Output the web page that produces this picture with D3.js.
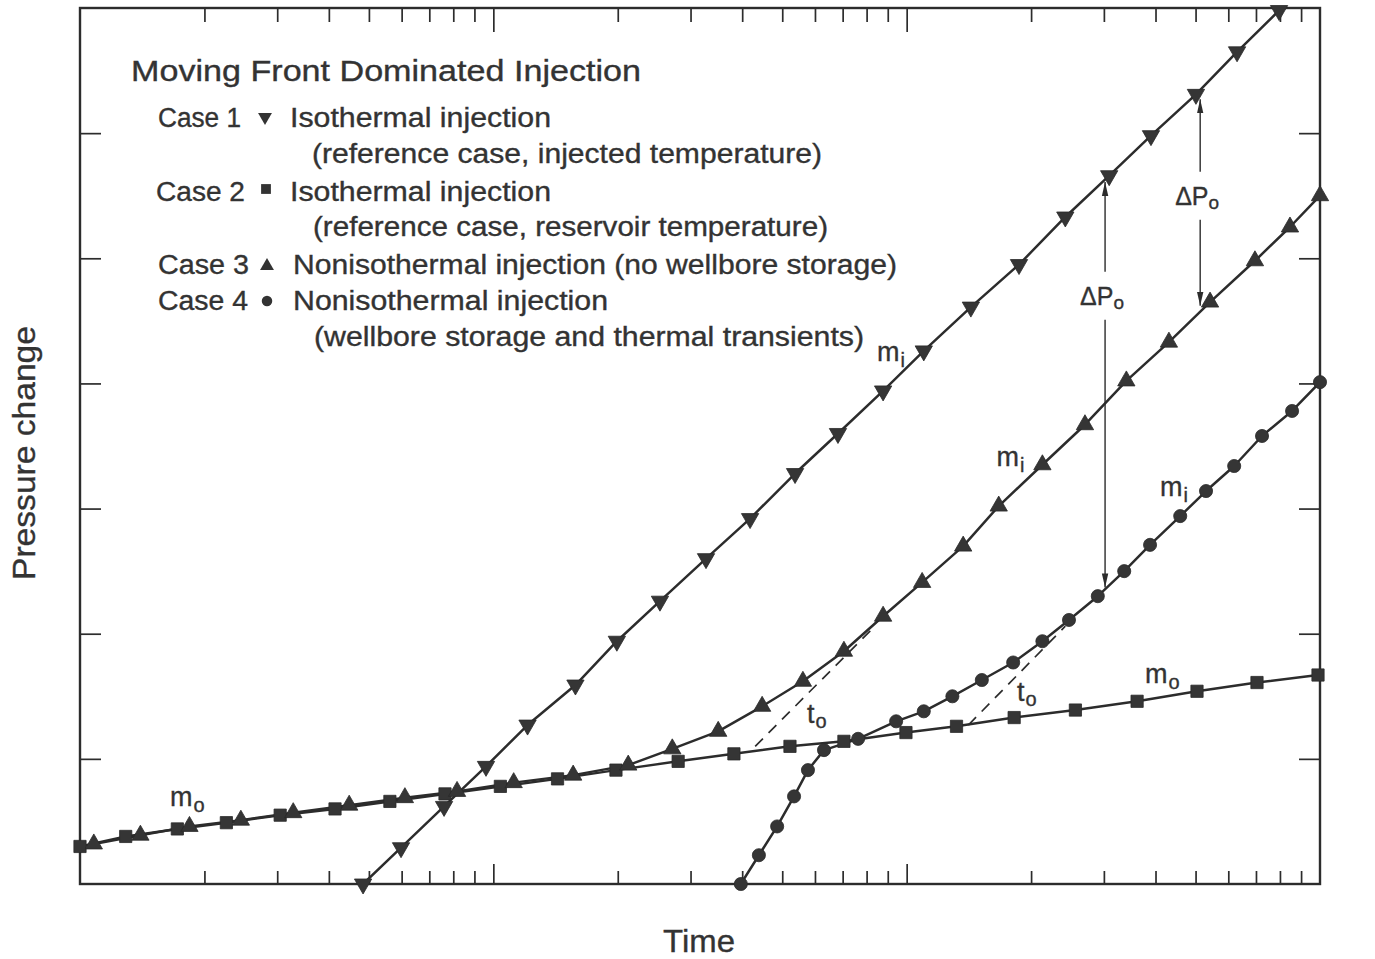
<!DOCTYPE html>
<html>
<head>
<meta charset="utf-8">
<script src="https://cdn.jsdelivr.net/npm/d3@7"></script>
<style>
  html, body { margin: 0; padding: 0; background: #ffffff; }
  svg { display: block; }
  text { font-family: "Liberation Sans", Arial, sans-serif; fill: #333333; stroke: #333333; stroke-width: 0.35; }
</style>
</head>
<body>
<svg id="chart" width="1375" height="959"></svg>
<script>
// ---- Data (time on a log axis, pressure change in arbitrary linear units) ----

// Case 1: isothermal injection, reference case at injected temperature
const case1Time = [4.84, 5.98, 7.60, 9.60, 12.1, 15.8, 19.9, 25.3, 32.7, 41.8, 53.7,
                   68.2, 87.7, 110, 143, 187, 242, 309, 390, 501, 630, 796];
const case1Pressure = [0.00, 0.29, 0.62, 0.94, 1.27, 1.59, 1.94, 2.26, 2.60, 2.92, 3.28,
                       3.60, 3.94, 4.26, 4.61, 4.95, 5.33, 5.66, 5.98, 6.31, 6.65, 6.98];

// Case 2: isothermal injection, reference case at reservoir temperature
const case2Time = [1.00, 1.29, 1.72, 2.26, 3.05, 4.14, 5.62, 7.64, 10.4, 14.3, 19.8, 28.0,
                   38.2, 52.2, 70.5, 99.6, 132, 182, 256, 361, 504, 704, 989];
const case2Pressure = [0.30, 0.38, 0.44, 0.49, 0.55, 0.60, 0.66, 0.72, 0.78, 0.84, 0.91, 0.98,
                       1.04, 1.10, 1.14, 1.21, 1.26, 1.33, 1.39, 1.46, 1.54, 1.61, 1.67];

// Case 3: nonisothermal injection, no wellbore storage
const case3Time = [1.08, 1.40, 1.84, 2.45, 3.28, 4.48, 6.11, 8.17, 11.2, 15.6, 21.2, 27.1, 35.0,
                   44.7, 56.1, 70.5, 87.7, 109, 137, 167, 213, 270, 340, 431, 542, 696, 846, 1000];
const case3Pressure = [0.32, 0.39, 0.46, 0.51, 0.57, 0.63, 0.69, 0.74, 0.81, 0.87, 0.95, 1.08, 1.22,
                       1.42, 1.62, 1.86, 2.14, 2.41, 2.70, 3.02, 3.35, 3.67, 4.02, 4.33, 4.65, 4.98, 5.25, 5.50];

// Case 4: nonisothermal injection, wellbore storage and thermal transients
const case4Time = [39.7, 43.9, 48.6, 53.4, 57.7, 63.1, 76.3, 94.3, 110, 129, 152, 181,
                   213, 247, 290, 336, 388, 459, 530, 620, 724, 856, 1000];
const case4Pressure = [0.00, 0.23, 0.46, 0.70, 0.91, 1.07, 1.16, 1.30, 1.38, 1.50, 1.63, 1.77,
                       1.94, 2.11, 2.30, 2.50, 2.71, 2.94, 3.14, 3.34, 3.58, 3.78, 4.01];

// Back-extrapolations of the m_i lines down to the m_o line (onset time t_o)
const onsetLineTime = [[43.0, 83.8], [141, 242]];
const onsetLinePressure = [[1.10, 2.06], [1.27, 2.06]];

// Pressure offsets between the Case 1 line and the nonisothermal lines
const offsetTime = [302, 513];
const offsetTop = [5.61, 6.27];
const offsetBottom = [2.37, 4.62];
const offsetLabelPressure = [4.70, 5.50];

// Slope and onset labels: [time, pressure] of the text baseline start
const slopeLabelMain = ["m", "m", "m", "m", "m"];
const slopeLabelSub = ["i", "i", "i", "o", "o"];
const slopeLabelTime = [84.8, 165, 410, 1.65, 377];
const slopeLabelPressure = [4.18, 3.34, 3.10, 0.62, 1.61];
const onsetLabelTime = [57.4, 185];
const onsetLabelPressure = [1.29, 1.46];

// Axis ticks (no labels are printed on either axis)
const timeTicks = [2, 3, 4, 5, 6, 7, 8, 9, 10, 20, 30, 40, 50, 60, 70, 80, 90, 100,
                   200, 300, 400, 500, 600, 700, 800, 900];
const decadeTicks = [10, 100];
const pressureTicks = [1, 2, 3, 4, 5, 6];

// ---- Layout ----
const frame = { left: 80, right: 1320, top: 8, bottom: 884 };
const ink = "#2c2c2c";

const x = d3.scaleLog().domain([1, 1000]).range([frame.left, frame.right]);
const y = d3.scaleLinear().domain([0, 7]).range([frame.bottom, frame.top]);

const svg = d3.select("#chart");
const defs = svg.append("defs");

defs.append("clipPath").attr("id", "plot-clip")
  .append("rect")
  .attr("x", frame.left).attr("y", frame.top)
  .attr("width", frame.right - frame.left)
  .attr("height", frame.bottom - frame.top);

defs.append("marker")
  .attr("id", "arrowhead")
  .attr("markerUnits", "userSpaceOnUse")
  .attr("viewBox", "0 0 14 8")
  .attr("refX", 14).attr("refY", 4)
  .attr("markerWidth", 14).attr("markerHeight", 8)
  .attr("orient", "auto")
  .append("path")
  .attr("d", "M0,0.8 L14,4 L0,7.2 Z")
  .attr("fill", ink);

// ---- Axes ----
function styleTicks(g) {
  g.select(".domain").remove();
  g.selectAll(".tick line").attr("stroke", ink).attr("stroke-width", 1.7);
  g.selectAll(".tick text").remove();
}

const gBottom = svg.append("g")
  .attr("transform", `translate(0,${frame.bottom})`)
  .call(d3.axisBottom(x).tickValues(timeTicks).tickFormat("").tickSizeOuter(0).tickSizeInner(-13));
styleTicks(gBottom);
gBottom.selectAll(".tick line").attr("y2", d => decadeTicks.includes(d) ? -20 : -13);

const gTop = svg.append("g")
  .attr("transform", `translate(0,${frame.top})`)
  .call(d3.axisTop(x).tickValues(timeTicks).tickFormat("").tickSizeOuter(0).tickSizeInner(-13));
styleTicks(gTop);
gTop.selectAll(".tick line").attr("y2", d => decadeTicks.includes(d) ? 24 : 14);

const gLeft = svg.append("g")
  .attr("transform", `translate(${frame.left},0)`)
  .call(d3.axisLeft(y).tickValues(pressureTicks).tickFormat("").tickSizeOuter(0).tickSizeInner(-21));
styleTicks(gLeft);

const gRight = svg.append("g")
  .attr("transform", `translate(${frame.right},0)`)
  .call(d3.axisRight(y).tickValues(pressureTicks).tickFormat("").tickSizeOuter(0).tickSizeInner(-21));
styleTicks(gRight);

svg.append("rect")
  .attr("x", frame.left).attr("y", frame.top)
  .attr("width", frame.right - frame.left)
  .attr("height", frame.bottom - frame.top)
  .attr("fill", "none").attr("stroke", ink).attr("stroke-width", 2.4);

// ---- Series ----
const series = [
  { time: case1Time, pressure: case1Pressure, shape: "down" },
  { time: case2Time, pressure: case2Pressure, shape: "square" },
  { time: case3Time, pressure: case3Pressure, shape: "up" },
  { time: case4Time, pressure: case4Pressure, shape: "circle" }
];

const line = d3.line().x(d => x(d[0])).y(d => y(d[1]));
const plot = svg.append("g").attr("clip-path", "url(#plot-clip)");

function symbolPath(shape, scale) {
  const s = scale || 1;
  if (shape === "square") return d3.symbol().type(d3.symbolSquare).size(150 * s * s)();
  if (shape === "circle") return d3.symbol().type(d3.symbolCircle).size(135 * s * s)();
  return d3.symbol().type(d3.symbolTriangle).size(130 * s * s)();
}

// onset-time extrapolations (dashed)
onsetLineTime.forEach((ts, i) => {
  const pts = ts.map((t, k) => [t, onsetLinePressure[i][k]]);
  svg.append("path")
    .attr("d", line(pts))
    .attr("fill", "none").attr("stroke", ink)
    .attr("stroke-width", 1.7).attr("stroke-dasharray", "11,8");
});

series.forEach(s => {
  const pts = s.time.map((t, i) => [t, s.pressure[i]]);
  plot.append("path")
    .attr("d", line(pts))
    .attr("fill", "none").attr("stroke", ink)
    .attr("stroke-width", 2.5).attr("stroke-linejoin", "round");
});

series.forEach(s => {
  const pts = s.time.map((t, i) => [t, s.pressure[i]]);
  svg.append("g").selectAll("path")
    .data(pts)
    .join("path")
    .attr("d", symbolPath(s.shape))
    .attr("transform", d => `translate(${x(d[0])},${y(d[1])})` + (s.shape === "down" ? " rotate(180)" : ""))
    .attr("fill", "#353535")
    .attr("stroke", "#2a2a2a").attr("stroke-width", 0.8);
});

// ---- Pressure offset arrows (ΔPo) ----
offsetTime.forEach((t, i) => {
  const xp = x(t);
  const yc = y(offsetLabelPressure[i]);
  const gap = 24;
  svg.append("line")
    .attr("x1", xp).attr("x2", xp)
    .attr("y1", yc - gap).attr("y2", y(offsetTop[i]))
    .attr("stroke", ink).attr("stroke-width", 1.4)
    .attr("marker-end", "url(#arrowhead)");
  svg.append("line")
    .attr("x1", xp).attr("x2", xp)
    .attr("y1", yc + gap).attr("y2", y(offsetBottom[i]))
    .attr("stroke", ink).attr("stroke-width", 1.4)
    .attr("marker-end", "url(#arrowhead)");
  const label = svg.append("text")
    .attr("x", xp - 25).attr("y", yc + 9)
    .attr("font-size", 25);
  label.append("tspan").text("ΔP");
  label.append("tspan").attr("font-size", 19).attr("dy", 4).text("o");
});

// ---- Slope (m_i, m_o) and onset (t_o) labels ----
slopeLabelTime.forEach((t, i) => {
  const txt = svg.append("text")
    .attr("x", x(t)).attr("y", y(slopeLabelPressure[i]))
    .attr("font-size", 27);
  txt.append("tspan").text(slopeLabelMain[i]);
  txt.append("tspan").attr("font-size", 20).attr("dx", 1).attr("dy", 6).text(slopeLabelSub[i]);
});

onsetLabelTime.forEach((t, i) => {
  const txt = svg.append("text")
    .attr("x", x(t)).attr("y", y(onsetLabelPressure[i]))
    .attr("font-size", 27);
  txt.append("tspan").text("t");
  txt.append("tspan").attr("font-size", 20).attr("dx", 1).attr("dy", 5).text("o");
});

// ---- Legend block ----
const legend = svg.append("g");
function legendText(str, xp, yp, len, size) {
  legend.append("text")
    .attr("x", xp).attr("y", yp)
    .attr("font-size", size || 27)
    .attr("textLength", len)
    .attr("lengthAdjust", "spacingAndGlyphs")
    .text(str);
}
function legendSymbol(shape, xp, yp) {
  legend.append("path")
    .attr("d", symbolPath(shape, 0.8))
    .attr("transform", `translate(${xp},${yp})` + (shape === "down" ? " rotate(180)" : ""))
    .attr("fill", "#333333");
}

legendText("Moving Front Dominated Injection", 131, 81, 510, 29);

legendText("Case 1", 158, 127, 83);
legendSymbol("down", 265, 117);
legendText("Isothermal injection", 290, 127, 261);
legendText("(reference case, injected temperature)", 312, 163, 510);

legendText("Case 2", 156, 201, 89);
legendSymbol("square", 266, 189);
legendText("Isothermal injection", 290, 201, 261);
legendText("(reference case, reservoir temperature)", 313, 236, 515);

legendText("Case 3", 158, 274, 91);
legendSymbol("up", 267, 266);
legendText("Nonisothermal injection (no wellbore storage)", 293, 274, 604);

legendText("Case 4", 158, 310, 90);
legendSymbol("circle", 267, 301);
legendText("Nonisothermal injection", 293, 310, 315);
legendText("(wellbore storage and thermal transients)", 314, 346, 550);

// ---- Axis titles ----
svg.append("text")
  .attr("x", 699).attr("y", 952)
  .attr("text-anchor", "middle")
  .attr("font-size", 32)
  .attr("textLength", 72).attr("lengthAdjust", "spacingAndGlyphs")
  .text("Time");

svg.append("text")
  .attr("transform", "translate(35,453) rotate(-90)")
  .attr("text-anchor", "middle")
  .attr("font-size", 31)
  .attr("textLength", 254).attr("lengthAdjust", "spacingAndGlyphs")
  .text("Pressure change");
</script>
</body>
</html>
